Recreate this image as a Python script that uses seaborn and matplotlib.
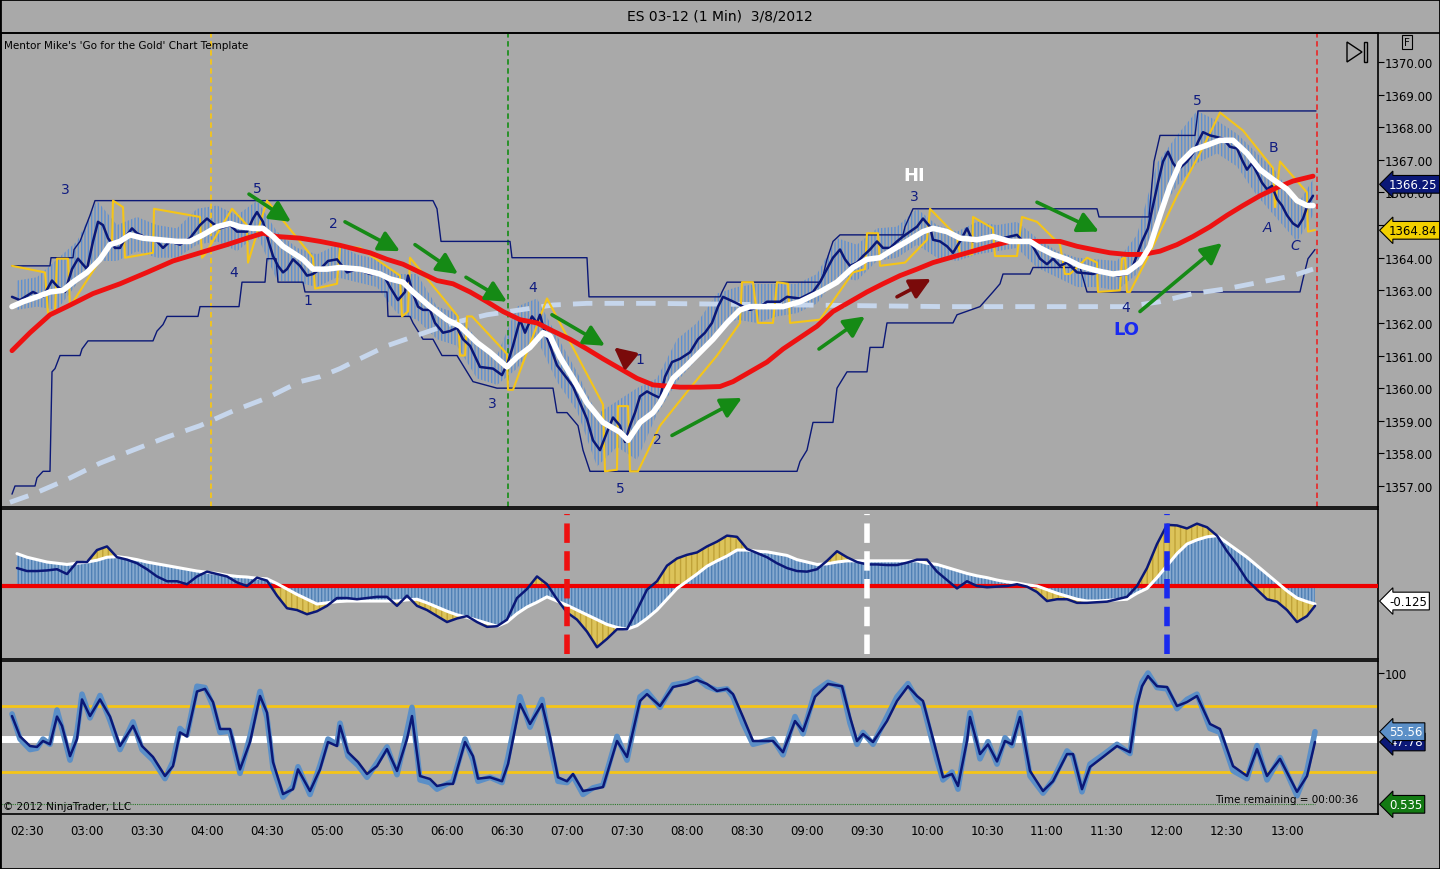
import matplotlib
matplotlib.use("Agg")
import matplotlib.pyplot as plt
import seaborn as sns
from matplotlib.patches import Polygon, Rectangle
from matplotlib.lines import Line2D

sns.set_theme(style="white")
plt.rcParams["font.family"] = ["DejaVu Sans"]
plt.rcParams["hatch.linewidth"] = 1.0

# x values are minutes since midnight (150 = 02:30)
# main panel: smoothed close (navy)
price_pts = [(142.5,1362.8),(146.5,1362.7),(153,1362.95),(158,1362.8),(162.5,1363.3),(165.5,1363.1),(169,1362.95),
    (172.5,1363.65),(175.5,1363.97),(180,1363.65),(183,1364.5),(185.5,1365.1),(188,1365.0),(190.5,1364.6),(194,1364.3),
    (196.5,1364.3),(200,1364.7),(202.5,1364.9),(205,1364.75),(210,1364.6),(215,1364.5),(218,1364.3),(221.5,1364.5),
    (226.5,1364.4),(231.5,1364.6),(236.5,1365.0),(240,1365.2),(243,1365.05),(246.5,1364.9),(251.5,1365.0),(255,1364.8),
    (260,1364.8),(263,1365.2),(265,1365.4),(268,1365.1),(270.5,1364.55),(273,1364.05),(275.5,1363.75),(278,1363.55),
    (280,1363.65),(283,1363.95),(286.5,1363.75),(290,1363.45),(293,1363.5),(296.5,1363.65),(300.5,1363.9),(305,1363.95),
    (310,1363.55),(315,1363.65),(321.5,1363.5),(328,1363.5),(331.5,1363.1),(335.5,1362.7),(339,1362.95),(340.5,1363.45),
    (343,1362.9),(345.5,1362.5),(348,1362.4),(351.5,1362.4),(354,1362.0),(358,1361.7),(361.5,1361.75),(365,1361.85),
    (368,1361.5),(371.5,1361.3),(376.5,1360.65),(383,1360.6),(387.5,1360.4),(390.5,1360.8),(393,1361.3),(396.5,1362.1),
    (399,1361.7),(402.5,1362.2),(405,1362.0),(406.5,1362.25),(408,1361.9),(411.5,1361.3),(415,1360.7),(420,1360.3),
    (423,1360.05),(426.5,1359.55),(430,1359.05),(433,1358.4),(436.5,1358.1),(440,1358.65),(443,1359.1),(446.5,1358.85),
    (449,1358.35),(451.5,1358.85),(454,1359.25),(456.5,1359.75),(460,1359.9),(463,1359.8),(466.5,1359.7),(469,1360.35),
    (472.5,1360.8),(476.5,1360.9),(481.5,1361.1),(485.5,1361.5),(489,1361.7),(492.5,1362.0),(495.5,1362.5),(498,1362.8),
    (501.5,1362.7),(505,1362.6),(508,1362.5),(511.5,1362.4),(516.5,1362.5),(520,1362.65),(526.5,1362.65),(530,1362.8),
    (536.5,1362.75),(543,1362.95),(546.5,1363.25),(550,1363.65),(553,1364.0),(556.5,1364.25),(559,1363.95),(561.5,1363.75),
    (565,1363.85),(568,1364.05),(571.5,1364.25),(575,1364.5),(578,1364.3),(581.5,1364.3),(585,1364.5),(588,1364.65),
    (591.5,1364.8),(595,1364.95),(598,1365.2),(601.5,1364.95),(603,1364.55),(606.5,1364.5),(610,1364.35),(613,1364.15),
    (616.5,1364.5),(620,1364.9),(623,1364.5),(626.5,1364.6),(631.5,1364.65),(638,1364.6),(645,1364.7),(648,1364.5),
    (651.5,1364.5),(656.5,1363.97),(660,1363.8),(663,1363.97),(666.5,1363.75),(670,1363.85),(675,1363.55),(683,1363.5),
    (688,1363.6),(695,1363.45),(700,1363.5),(703,1363.75),(707.5,1364.5),(710.5,1364.9),(713,1365.6),(715.5,1366.3),
    (718,1366.95),(720.5,1367.25),(723,1366.9),(725.5,1366.7),(730,1366.95),(733,1367.2),(735.5,1367.55),(738,1367.85),
    (741.5,1367.75),(745,1367.7),(748,1367.65),(751.5,1367.4),(755,1367.35),(757.5,1367.0),(760,1366.7),(762.5,1366.9),
    (765,1366.6),(767.5,1366.3),(770,1366.1),(772.5,1366.2),(775,1365.8),(777.5,1365.6),(780,1365.3),(783,1365.05),
    (785.5,1364.95),(788,1365.2),(790.5,1365.65),(793,1365.9)]

# 1-min bar range, lows and highs
bar_pts = [(145,1362.4,1363.3),(155,1362.5,1363.4),(165,1362.4,1363.95),(175,1363.2,1364.5),(185,1363.9,1365.75),
    (195,1363.9,1365.0),(205,1364.2,1365.25),(215,1364.0,1365.0),(225,1364.0,1364.9),(235,1364.4,1365.5),
    (245,1364.5,1365.6),(255,1364.2,1365.3),(265,1364.7,1365.75),(275,1363.3,1364.8),(285,1363.25,1364.3),
    (295,1363.1,1364.1),(305,1363.4,1364.4),(315,1363.25,1364.1),(325,1363.1,1363.95),(335,1362.3,1363.5),
    (345,1362.1,1363.5),(355,1361.5,1362.5),(365,1361.3,1362.3),(375,1360.3,1361.5),(385,1360.1,1361.0),
    (395,1360.6,1362.5),(405,1361.5,1362.75),(415,1360.2,1361.6),(425,1359.3,1360.5),(435,1357.6,1359.2),
    (445,1358.2,1359.6),(455,1357.8,1360.0),(465,1359.2,1360.3),(475,1360.2,1361.5),(485,1360.9,1362.0),
    (495,1361.8,1362.9),(505,1362.1,1363.1),(515,1362.0,1363.2),(525,1362.2,1363.2),(535,1362.3,1363.2),
    (545,1362.6,1363.5),(555,1363.4,1364.6),(565,1363.3,1364.4),(575,1363.9,1364.9),(585,1364.0,1364.95),
    (595,1364.4,1365.5),(605,1364.0,1365.0),(615,1363.9,1364.8),(625,1364.1,1365.1),(635,1364.2,1365.0),
    (645,1364.3,1365.1),(655,1363.7,1364.6),(665,1363.4,1364.2),(675,1363.1,1364.0),(685,1363.1,1363.95),
    (695,1363.0,1363.9),(705,1363.5,1364.7),(715,1365.3,1366.9),(725,1366.2,1367.75),(735,1366.9,1368.5),
    (745,1367.2,1368.2),(755,1366.8,1367.8),(765,1365.9,1367.2),(775,1365.2,1366.6),(785,1364.5,1365.6),
    (793,1365.3,1366.4)]

fast_ma = [(142.5,1362.5),(148,1362.65),(155,1362.8),(161.5,1362.95),(168,1363.0),(173,1363.25),(180,1363.55),
    (186.5,1363.95),(191.5,1364.4),(196.5,1364.5),(201.5,1364.7),(208,1364.6),(216.5,1364.55),(225,1364.5),
    (231.5,1364.5),(238,1364.7),(245,1364.95),(251.5,1365.05),(256.5,1364.95),(263,1364.9),(268,1364.9),
    (273,1364.65),(278,1364.35),(283,1364.15),(288,1363.95),(293,1363.65),(300,1363.65),(306.5,1363.7),
    (316.5,1363.65),(326.5,1363.5),(331.5,1363.35),(338,1363.25),(343,1362.95),(351.5,1362.5),(360,1362.1),
    (366.5,1361.9),(375,1361.4),(381.5,1361.1),(390,1360.65),(395,1360.95),(401.5,1361.25),(408,1361.7),
    (411.5,1361.6),(416.5,1360.95),(423,1360.3),(430,1359.55),(438,1358.95),(446.5,1358.65),(450.5,1358.4),
    (456.5,1358.95),(463,1359.25),(466.5,1359.55),(473,1360.3),(480,1360.7),(486.5,1361.1),(493,1361.5),
    (500,1362.0),(506.5,1362.4),(511.5,1362.5),(528,1362.5),(536.5,1362.65),(546.5,1362.95),(555,1363.25),
    (563,1363.7),(570,1363.95),(576.5,1364.0),(583,1364.25),(590,1364.5),(598,1364.8),(603,1364.9),(610,1364.8),
    (616.5,1364.6),(625,1364.55),(633,1364.65),(641.5,1364.5),(651.5,1364.5),(656.5,1364.3),(663,1364.1),
    (670,1363.95),(676.5,1363.75),(685,1363.6),(693,1363.5),(700,1363.55),(706.5,1363.85),(711.5,1364.35),
    (716.5,1365.3),(721.5,1366.2),(726.5,1366.9),(733,1367.3),(740,1367.45),(746.5,1367.6),(753,1367.6),
    (760,1367.2),(766.5,1366.7),(773,1366.4),(780,1366.1),(785,1365.75),(790,1365.6),(793,1365.6)]

slow_ma = [(142.5,1361.15),(151.5,1361.7),(161.5,1362.25),(170,1362.5),(183,1362.9),(196.5,1363.2),(210,1363.55),
    (223,1363.9),(236.5,1364.15),(250,1364.4),(260,1364.6),(268,1364.75),(275,1364.65),(286.5,1364.6),(296.5,1364.5),
    (306.5,1364.38),(321.5,1364.15),(330,1363.95),(338,1363.8),(346.5,1363.55),(355,1363.3),(363,1363.2),
    (371.5,1362.95),(380,1362.65),(388,1362.35),(396.5,1362.1),(405,1362.0),(413,1361.75),(421.5,1361.5),
    (430,1361.2),(438,1360.9),(446.5,1360.6),(455,1360.3),(463,1360.1),(476.5,1360.03),(486.5,1360.03),
    (496.5,1360.05),(503,1360.2),(511.5,1360.5),(520,1360.8),(528,1361.2),(536.5,1361.55),(545,1361.9),
    (553,1362.35),(561.5,1362.65),(570,1362.95),(578,1363.2),(586.5,1363.45),(595,1363.65),(603,1363.85),
    (611.5,1364.0),(623,1364.2),(631.5,1364.35),(641.5,1364.5),(656.5,1364.5),(666.5,1364.5),(675,1364.35),
    (683,1364.25),(691.5,1364.15),(700,1364.1),(708,1364.1),(716.5,1364.2),(725,1364.4),(733,1364.65),
    (741.5,1364.95),(750,1365.3),(758,1365.6),(766.5,1365.9),(775,1366.15),(783,1366.35),(793,1366.5)]

long_ma = [(141.5,1356.5),(153,1356.75),(170,1357.2),(186.5,1357.7),(203,1358.1),(220,1358.5),(236.5,1358.85),
    (253,1359.3),(270,1359.7),(286.5,1360.2),(296.5,1360.35),(306.5,1360.6),(313,1360.8),(330,1361.3),(346.5,1361.65),
    (363,1362.0),(380,1362.25),(396.5,1362.4),(413,1362.55),(430,1362.6),(463,1362.6),(536.5,1362.55),(609.5,1362.5),
    (650,1362.5),(700,1362.5),(716.5,1362.65),(733,1362.9),(750,1363.05),(766.5,1363.25),(783,1363.45),(793,1363.65)]

upper_chan = [(142.5,1363.75),(161.5,1363.75),(162,1364.0),(173,1364.0),(173.5,1364.25),(176.5,1364.5),(181.5,1365.3),
    (184,1365.75),(353,1365.75),(355,1365.5),(357,1364.5),(391.5,1364.5),(392.5,1364.0),(430,1364.0),(431,1362.8),
    (496.5,1362.8),(497.5,1362.95),(500,1363.25),(546.5,1363.25),(548,1363.45),(550,1363.95),(553,1364.5),
    (556.5,1364.7),(588,1364.7),(589,1364.95),(593,1365.5),(685,1365.5),(686,1365.25),(711,1365.25),(713.5,1366.95),
    (716.5,1367.75),(734,1367.75),(735.5,1368.5),(794.5,1368.5)]

lower_chan = [(142.5,1356.75),(144,1357.0),(154,1357.0),(155,1357.25),(158,1357.45),(161.5,1357.45),(162.5,1360.5),
    (164,1360.6),(166.5,1361.0),(176.5,1361.0),(177.5,1361.2),(180.5,1361.45),(213,1361.45),(215,1361.75),
    (218,1361.95),(220,1362.2),(235.5,1362.2),(236.5,1362.5),(256,1362.5),(257.5,1363.25),(269,1363.25),
    (270,1363.97),(274.5,1363.97),(275.5,1363.25),(288,1363.25),(289,1362.95),(330,1362.95),(330.5,1362.2),
    (341.5,1362.2),(343,1362.0),(348,1361.5),(353,1361.5),(357.5,1361.0),(365,1361.0),(373,1360.2),(385,1360.0),
    (413,1360.0),(415,1359.25),(420,1359.25),(425.5,1358.85),(428,1358.1),(431.5,1357.45),(535,1357.45),
    (536.5,1357.75),(540,1358.1),(543,1358.95),(553,1358.95),(555,1360.0),(560,1360.5),(570,1360.5),(571.5,1361.25),
    (578,1361.25),(580,1362.0),(613,1362.0),(615,1362.25),(626.5,1362.5),(633,1362.95),(636.5,1363.2),(638,1363.5),
    (651.5,1363.5),(653,1363.7),(676.5,1363.7),(680,1362.95),(786.5,1362.95),(788,1363.35),(790.5,1363.97),
    (794,1364.25)]

yellow_line = [(142.5,1363.75),(159,1363.55),(160.5,1362.3),(164,1362.35),(165,1363.97),(170.5,1363.97),
    (171.5,1362.5),(192.5,1364.5),(193,1365.75),(198,1365.55),(199,1364.0),(213,1364.15),(213.5,1365.5),
    (236.5,1365.25),(237.5,1364.0),(239,1364.1),(252.5,1365.5),(260,1365.0),(260.5,1363.85),(270,1365.75),
    (293,1364.0),(294,1363.05),(305,1363.2),(306.5,1364.35),(316.5,1364.3),(336.5,1363.45),(337.5,1362.2),
    (340.5,1362.35),(341.5,1364.0),(365.5,1362.2),(366.5,1361.0),(369,1361.0),(370,1362.2),(372.5,1362.2),
    (390,1361.05),(390.5,1359.95),(393,1359.95),(410,1362.75),(438,1359.5),(439,1357.45),(445,1357.5),
    (445.5,1359.45),(450.5,1359.45),(451.5,1357.45),(455.5,1357.45),(466.5,1358.85),(481.5,1360.0),(495,1361.0),
    (506.5,1362.0),(507.5,1363.25),(513,1363.25),(515.5,1362.0),(523,1362.0),(525,1363.25),(530.5,1363.2),
    (531.5,1362.0),(546.5,1362.1),(563,1363.55),(569,1363.65),(570,1364.75),(575.5,1364.75),(576.5,1363.75),
    (589,1363.85),(600,1364.55),(601.5,1365.5),(615,1364.65),(616.5,1364.1),(622.5,1364.1),(623,1365.25),
    (633,1364.9),(634,1364.05),(645,1364.05),(647.5,1365.25),(655,1365.1),(666.5,1364.4),(669,1363.5),
    (671.5,1363.5),(680,1364.0),(685,1363.85),(685.5,1362.95),(696.5,1363.0),(697.5,1363.97),(699,1364.0),
    (700,1362.95),(701.5,1362.95),(710,1363.97),(725,1365.9),(736.5,1367.2),(746.5,1368.45),(758,1367.9),
    (773,1366.75),(774,1365.55),(776.5,1366.95),(790,1366.0),(790.5,1364.8),(794,1364.85)]

wave_labels = [(169,1366.1,"3"),(265,1366.15,"5"),(253.5,1363.55,"4"),(290.5,1362.7,"1"),(303,1365.05,"2"),
    (403,1363.1,"4"),(382.5,1359.55,"3"),(456.5,1360.9,"1"),(465,1358.45,"2"),(446.5,1356.95,"5"),
    (593.5,1365.9,"3"),(699.5,1362.5,"4"),(735,1368.85,"5"),(773,1367.4,"B")]
abc_labels = [(770,1364.95,"A"),(784,1364.4,"C")]

arrows = [(261,1365.95,282,1365.1,"g"),(309,1365.1,336.5,1364.2,"g"),(344,1364.4,365.5,1363.5,"g"),
    (369.5,1363.4,390,1362.65,"g"),(412.5,1362.25,439,1361.3,"g"),(451.5,1360.85,443.5,1361.25,"r"),
    (472.5,1358.55,507.5,1359.7,"g"),(546,1361.2,569,1362.2,"g"),(585,1362.8,602,1363.35,"r"),
    (655,1365.7,686,1364.8,"g"),(706.5,1362.35,747.5,1364.45,"g")]

# middle panel: oscillator (t, fast line, signal)
osc_pts = [(145,0.15,0.27),(150,0.125,0.24),(155,0.125,0.22),(160,0.13,0.2),(165,0.14,0.19),(170,0.1,0.18),
    (175,0.2,0.19),(180,0.2,0.2),(185,0.3,0.215),(190,0.33,0.24),(195,0.24,0.245),(200,0.22,0.235),(205,0.19,0.22),
    (210,0.14,0.2),(215,0.08,0.185),(220,0.04,0.17),(225,0.04,0.155),(230,0.015,0.14),(235,0.08,0.125),
    (240,0.12,0.115),(245,0.1,0.105),(250,0.08,0.09),(255,0.03,0.08),(260,0.0,0.075),(265,0.07,0.065),
    (270,0.045,0.06),(275,-0.08,0.02),(280,-0.185,-0.025),(285,-0.2,-0.07),(290,-0.235,-0.11),(295,-0.21,-0.15),
    (300,-0.165,-0.14),(305,-0.1,-0.13),(310,-0.1,-0.125),(315,-0.11,-0.125),(320,-0.1,-0.125),(325,-0.09,-0.125),
    (330,-0.09,-0.125),(335,-0.165,-0.125),(340,-0.08,-0.115),(345,-0.165,-0.11),(350,-0.2,-0.14),
    (355,-0.25,-0.175),(360,-0.3,-0.21),(365,-0.27,-0.24),(370,-0.25,-0.26),(375,-0.3,-0.285),(380,-0.34,-0.31),
    (385,-0.335,-0.335),(390,-0.28,-0.3),(395,-0.1,-0.23),(400,-0.025,-0.175),(405,0.08,-0.135),(410,0.015,-0.09),
    (415,-0.11,-0.125),(420,-0.22,-0.16),(425,-0.28,-0.2),(430,-0.38,-0.24),(435,-0.51,-0.28),(440,-0.44,-0.32),
    (445,-0.36,-0.345),(450,-0.36,-0.36),(455,-0.2,-0.33),(460,-0.03,-0.27),(465,0.04,-0.2),(470,0.17,-0.11),
    (475,0.23,-0.02),(480,0.26,0.04),(485,0.28,0.1),(490,0.33,0.165),(495,0.37,0.21),(500,0.42,0.25),
    (505,0.41,0.3),(510,0.31,0.3),(515,0.275,0.29),(520,0.24,0.285),(525,0.19,0.27),(530,0.15,0.255),
    (535,0.125,0.22),(540,0.12,0.2),(545,0.14,0.18),(550,0.21,0.185),(555,0.29,0.2),(560,0.24,0.21),(565,0.2,0.21),
    (570,0.18,0.21),(575,0.18,0.21),(580,0.175,0.21),(585,0.175,0.21),(590,0.195,0.21),(595,0.22,0.21),
    (600,0.22,0.19),(605,0.12,0.18),(610,0.05,0.155),(615,-0.02,0.13),(620,0.04,0.105),(625,0.0,0.085),
    (630,-0.01,0.07),(635,-0.005,0.05),(640,0.0,0.035),(645,0.015,0.025),(650,-0.005,0.01),(655,-0.05,0.0),
    (660,-0.125,-0.03),(665,-0.11,-0.06),(670,-0.11,-0.085),(675,-0.14,-0.11),(680,-0.14,-0.125),
    (685,-0.135,-0.125),(690,-0.13,-0.12),(695,-0.11,-0.115),(700,-0.09,-0.11),(705,0.0,-0.06),(710,0.15,-0.02),
    (715,0.35,0.07),(720,0.51,0.17),(725,0.505,0.27),(730,0.48,0.35),(735,0.52,0.385),(740,0.49,0.41),
    (745,0.42,0.42),(750,0.29,0.36),(755,0.18,0.3),(760,0.05,0.24),(765,-0.03,0.17),(770,-0.11,0.1),
    (775,-0.13,0.03),(780,-0.2,-0.04),(785,-0.3,-0.1),(790,-0.25,-0.13),(794,-0.165,-0.15)]

# bottom panel: stochastic (t, slow navy, fast light blue)
stoch_pts = [(142.5,67.4,69),(146.5,52,50),(151.5,44.7,42),(155,44,43),(158,48.5,50),(161.5,46,46),(165,67,72),
    (167.5,60,58),(171.5,37,34),(175,50,55),(177.5,80,84),(181.5,67.4,66),(186.5,80,83),(191.5,67,64),
    (196.5,44.7,42),(203,60,63),(207.5,44.7,42),(213,36.4,34),(219,22,20),(223,29.5,33),(226.5,55,58),(230,52,53),
    (235,86,90),(239,88,89),(243,78,75),(246.5,57.6,55),(251.5,57.6,56),(256.5,27,24),(261.5,47.7,52),
    (266.5,82.6,86),(270,70,66),(273,32.6,28),(278,8.3,6),(283,12,14),(285.5,27,29),(291.5,10.6,8),(296.5,27,30),
    (300.5,47.7,50),(305,44.7,46),(306.5,60,62),(310.5,40,37),(315.5,32.6,30),(320,23.5,21),(325,29.5,32),
    (330,42.4,44),(335,25.8,23),(340,50,56),(342.5,67.4,74),(346.5,22,19),(351.5,19.7,17),(355,14.4,12),(360,16,16),
    (363,16,18),(369,47.7,50),(373,37,34),(375.5,20,18),(381.5,21,21),(387.5,18,17),(390.5,31,36),(396.5,76.5,82),
    (401.5,61.4,59),(407.5,76.5,80),(411.5,51.5,46),(415.5,21,18),(420,18,17),(423,23.5,22),(428,10.6,8),
    (433,12,13),(438,13.6,15),(445,48.5,52),(450,36.4,34),(456.5,78.8,82),(460,84,86),(466.5,75,74),(473,89.4,91),
    (480,91.7,93),(485,94.7,96),(490,91.7,90),(495,86.4,87),(500,88,88),(503,84,82),(508,66.7,62),(513,48.5,46),
    (523,48.5,50),(528,40,38),(534,63.6,67),(538,56,54),(544,82,86),(550.5,91.7,93),(557.5,90,89),(561.5,66.7,62),
    (565,48.5,46),(568,53.8,55),(573,47.7,46),(580,63.6,67),(585,78.8,82),(590.5,90,92),(595,82.6,80),(598,78.8,76),
    (605,38.6,34),(608,21,19),(612.5,23.5,25),(615.5,14.4,12),(620,48.5,55),(621.5,66.7,70),(626.5,38.6,35),
    (630.5,46,48),(635,33,31),(639,48.5,51),(642.5,46,45),(646.5,66.7,70),(651.5,25.8,22),(658,10.6,9),(663,18,19),
    (670,38.6,41),(673,38.6,37),(677.5,12,10),(681.5,28.8,31),(688,36.4,38),(695,44.7,46),(701.5,40,39),(705,75,80),
    (707.5,90,93),(710.5,97.7,100),(715,90,89),(720,89.4,88),(725,75,73),(730,78,80),(735,82.6,84),(741.5,61.4,58),
    (746.5,57.6,55),(753,29.5,26),(760,22,20),(765,42.4,45),(770,22,19),(776.5,35,36),(785,10,7),(790,22,26),
    (794,47.78,55.56)]

time_ticks = [150, 180, 210, 240, 270, 300, 330, 360, 390, 420, 450, 480, 510, 540, 570, 600, 630, 660, 690, 720, 750, 780]
time_labels = ["02:30", "03:00", "03:30", "04:00", "04:30", "05:00", "05:30", "06:00", "06:30", "07:00", "07:30",
               "08:00", "08:30", "09:00", "09:30", "10:00", "10:30", "11:00", "11:30", "12:00", "12:30", "13:00"]
price_ticks = [1357, 1358, 1359, 1360, 1361, 1362, 1363, 1364, 1365, 1366, 1367, 1368, 1369, 1370]

BG = "#a9a9a9"
NAVY = "#0b1877"
LBLUE = "#5b8fc7"
GOLD = "#f5c518"
W, H = 1440, 870


def fx(px):
    return px / W


def fy(py):
    return 1 - py / H


def col(pts, i):
    return [p[i] for p in pts]


def line(ax, pts, i, **kw):
    sns.lineplot(x=col(pts, 0), y=col(pts, i), ax=ax, estimator=None, sort=False, legend=False, **kw)


fig = plt.figure(figsize=(14.4, 8.7), dpi=100, facecolor=BG)
ax1 = fig.add_axes([fx(1), fy(508), fx(1377), 474 / H])
ax2 = fig.add_axes([fx(1), fy(660), fx(1377), 150 / H], sharex=ax1)
ax3 = fig.add_axes([fx(1), fy(815), fx(1377), 153 / H], sharex=ax1)
for ax in (ax1, ax2, ax3):
    ax.set_facecolor(BG)
    for s in ax.spines.values():
        s.set_color("black")
        s.set_linewidth(1.2)
    ax.yaxis.tick_right()
    ax.tick_params(axis="y", direction="out", length=4, width=0.8, pad=1, labelsize=8.5, colors="black")
ax1.set_xlim(137, 825.5)

# ---- main price panel
ax1.fill_between(col(bar_pts, 0), col(bar_pts, 1), col(bar_pts, 2), facecolor="none",
                 edgecolor="#5f90d0", hatch="|||||", linewidth=0, zorder=1)
line(ax1, upper_chan, 1, color=NAVY, linewidth=1.0, zorder=2)
line(ax1, lower_chan, 1, color=NAVY, linewidth=1.0, zorder=2)
line(ax1, long_ma, 1, color="#c6d6ec", linewidth=3.5, linestyle=(0, (4, 2.5)), zorder=2)
line(ax1, yellow_line, 1, color=GOLD, linewidth=1.5, zorder=3)
line(ax1, price_pts, 1, color=NAVY, linewidth=1.8, zorder=4)
line(ax1, slow_ma, 1, color="#ee1111", linewidth=3.5, zorder=5, solid_capstyle="round")
line(ax1, fast_ma, 1, color="white", linewidth=4, zorder=6, solid_capstyle="round")

ax1.axvline(242, color=GOLD, linestyle=(0, (3, 2)), linewidth=1.3, zorder=1.5)
ax1.axvline(390.5, color="#1f8f1f", linestyle=(0, (3, 2)), linewidth=1.3, zorder=1.5)
ax1.axvline(795, color="#e53030", linestyle=(0, (3, 2)), linewidth=1.3, zorder=1.5)

for t, p, s in wave_labels:
    ax1.text(t, p, s, color="#101c80", fontsize=10, ha="center", va="center", zorder=8)
for t, p, s in abc_labels:
    ax1.text(t, p, s, color="#101c80", fontsize=10, ha="center", va="center", style="italic", zorder=8)
ax1.text(593.5, 1366.55, "HI", color="white", fontsize=13, fontweight="bold", ha="center", va="center", zorder=8)
ax1.text(699.5, 1361.8, "LO", color="#1a2af0", fontsize=13, fontweight="bold", ha="center", va="center", zorder=8)

for t0, p0, t1, p1, c in arrows:
    ax1.annotate("", xy=(t1, p1), xytext=(t0, p0), zorder=9,
                 arrowprops=dict(arrowstyle="-|>,head_length=0.9,head_width=0.45", lw=2.6,
                                 color="#158a15" if c == "g" else "#7a0a0a", mutation_scale=14,
                                 shrinkA=0, shrinkB=0))

ax1.set_ylim(1356.356, 1370.89)
ax1.set_yticks(price_ticks)
ax1.set_yticklabels(["" if v == 1365 else f"{v:.2f}" for v in price_ticks])
ax1.tick_params(axis="x", bottom=False, labelbottom=False)

# ---- oscillator panel
ax2.fill_between(col(osc_pts, 0), col(osc_pts, 1), col(osc_pts, 2), facecolor="#dcc35a",
                 edgecolor="#c0a238", hatch="|||", linewidth=0, zorder=1)
ax2.fill_between(col(osc_pts, 0), 0, col(osc_pts, 2), facecolor="#86a9cf",
                 edgecolor="#4f80b5", hatch="|||||", linewidth=0, zorder=2)
ax2.axhline(0, color="#ee0000", linewidth=3, zorder=3)
line(ax2, osc_pts, 2, color="white", linewidth=2.2, zorder=4)
line(ax2, osc_pts, 1, color=NAVY, linewidth=1.8, zorder=5)
ax2.vlines(420, -0.567, 0.6, colors="#ee1111", linewidth=4, linestyles=(0, (3.5, 1.5)), zorder=6)
ax2.vlines(570, -0.567, 0.6, colors="white", linewidth=4, linestyles=(0, (3.5, 1.5)), zorder=6)
ax2.vlines(720, -0.567, 0.6, colors="#1a2aee", linewidth=4, linestyles=(0, (3.5, 1.5)), zorder=6)
ax2.set_ylim(-0.608, 0.642)
ax2.set_yticks([])
ax2.tick_params(axis="x", bottom=False, labelbottom=False)

# ---- stochastic panel
ax3.axhline(75, color=GOLD, linewidth=2, zorder=1)
ax3.axhline(25, color=GOLD, linewidth=2, zorder=1)
ax3.axhline(50, color="white", linewidth=5, zorder=1)
ax3.plot([137, 794], [0.535, 0.535], color="#2a7a2a", linewidth=0.8, linestyle=(0, (1, 1)), zorder=1)
line(ax3, stoch_pts, 2, color=LBLUE, linewidth=4, zorder=2, solid_capstyle="round")
line(ax3, stoch_pts, 1, color=NAVY, linewidth=1.8, zorder=3)
ax3.set_ylim(-6.8, 109.1)
ax3.set_yticks([100])
ax3.set_yticklabels(["100"])
ax3.set_xticks(time_ticks)
ax3.set_xticklabels(time_labels)
ax3.tick_params(axis="x", direction="out", length=4, width=0.8, pad=3, labelsize=8.5, colors="black")
for ax in (ax1, ax2, ax3):
    ax.set_xlabel("")
    ax.set_ylabel("")


def badge(ax, y, text, fc, tc):
    ax.annotate(text, xy=(1.0, y), xycoords=("axes fraction", "data"), xytext=(8, 0),
                textcoords="offset points", ha="left", va="center", fontsize=8.5, color=tc, zorder=10,
                bbox=dict(boxstyle="larrow,pad=0.2", fc=fc, ec="black", lw=0.8), annotation_clip=False)


badge(ax1, 1366.25, "1366.25", NAVY, "white")
badge(ax1, 1364.84, "1364.84", "#f2d000", "black")
badge(ax2, -0.125, "-0.125", "white", "black")
badge(ax3, 47.78, "47.78", NAVY, "white")
badge(ax3, 55.56, "55.56", LBLUE, "white")
badge(ax3, 0.535, "0.535", "#137a13", "white")

# ---- header and decorations
fig.text(0.5, fy(16), "ES 03-12 (1 Min)  3/8/2012", ha="center", va="center", fontsize=10, color="black")
fig.text(fx(4), fy(46), "Mentor Mike's 'Go for the Gold' Chart Template", ha="left", va="center",
         fontsize=7.5, color="black")
fig.text(fx(3), fy(807), "\u00a9 2012 NinjaTrader, LLC", ha="left", va="center", fontsize=7.5, color="black")
fig.text(fx(1215), fy(800), "Time remaining = 00:00:36", ha="left", va="center", fontsize=7.5, color="black")
fig.text(fx(1407), fy(43), "F", ha="center", va="center", fontsize=7.5, color="black",
         bbox=dict(boxstyle="square,pad=0.2", fc="none", ec="black", lw=0.8))
fig.add_artist(Polygon([(fx(1347), fy(43)), (fx(1347), fy(63)), (fx(1362), fy(53))], closed=True,
                       fill=False, ec="black", lw=1.0, transform=fig.transFigure))
fig.add_artist(Rectangle((fx(1364), fy(63)), fx(3), 20 / H, fill=False, ec="black", lw=1.0,
                         transform=fig.transFigure))
fig.add_artist(Line2D([0, 1], [fy(34), fy(34)], color="black", lw=1.2, transform=fig.transFigure))
fig.add_artist(Rectangle((0, 0), 1, 1, fill=False, ec="black", lw=2, transform=fig.transFigure))

fig.savefig("out.png", dpi=100, facecolor=BG)
